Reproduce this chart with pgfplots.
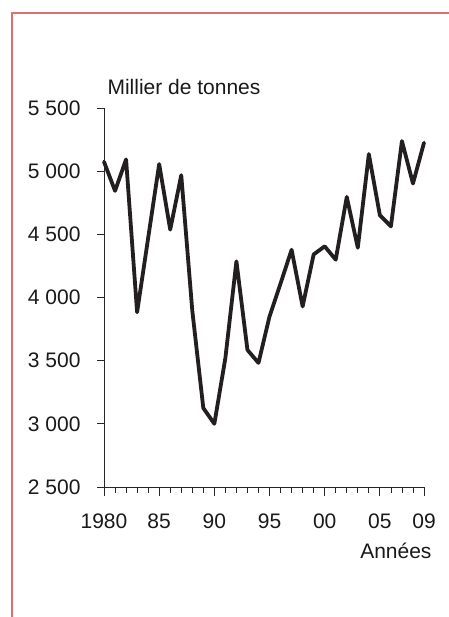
\documentclass[border=0pt]{standalone}
\usepackage{pgfplots}
\pgfplotsset{compat=1.18}
\usepackage{fontspec}
\setmainfont{Liberation Sans}
\definecolor{framered}{RGB}{218,112,112}
\definecolor{linecol}{RGB}{35,31,32}
\begin{document}
\begin{tikzpicture}[x=1bp,y=1bp]
\path[use as bounding box] (0,0) rectangle (449,617);
\draw[framered,line width=1.6bp] (12,0) -- (12,604) -- (449,604);
\begin{axis}[
  at={(104bp,130bp)}, anchor=south west,
  scale only axis, width=320bp, height=379bp,
  xmin=1980, xmax=2009, ymin=2500, ymax=5500,
  axis x line*=bottom, axis y line*=left,
  axis line style={line width=0.8bp, black!85},
  every tick/.style={line width=0.8bp, black!85},
  xtick={1980,1985,1990,1995,2000,2005,2009},
  xticklabels={1980,85,90,95,00,05,09},
  minor xtick={1981,1982,1983,1984,1986,1987,1988,1989,1991,1992,1993,1994,1996,1997,1998,1999,2001,2002,2003,2004,2006,2007,2008},
  ytick={2500,3000,3500,4000,4500,5000,5500},
  yticklabels={2 500,3 000,3 500,4 000,4 500,5 000,5 500},
  tick align=outside,
  major tick length=9bp, minor tick length=6bp,
  ytick style={/pgfplots/major tick length=7bp},
  tick label style={font=\fontsize{21bp}{24bp}\selectfont, black!90},
  yticklabel style={xshift=-11bp},
  xticklabel style={yshift=-14bp},
  clip=false,
]
\addplot[linecol, line width=3.8bp, line join=round, line cap=round] coordinates {
(1980,5074) (1981,4844) (1982,5093) (1983,3883) (1984,4470) (1985,5056)
(1986,4537) (1987,4968) (1988,3897) (1989,3125) (1990,3000) (1991,3521)
(1992,4286) (1993,3585) (1994,3482) (1995,3850) (1996,4111) (1997,4378)
(1998,3929) (1999,4341) (2000,4405) (2001,4299) (2002,4796) (2003,4394)
(2004,5135) (2005,4651) (2006,4563) (2007,5238) (2008,4902) (2009,5225)
};
\node[anchor=base west, font=\fontsize{21bp}{24bp}\selectfont, black!90] at (rel axis cs:0,1) [yshift=13bp, xshift=0bp] {Millier de tonnes};
\node[anchor=base east, font=\fontsize{21bp}{24bp}\selectfont, black!90] at (rel axis cs:1,0) [yshift=-72bp, xshift=11bp] {Années};
\end{axis}
\end{tikzpicture}
\end{document}
